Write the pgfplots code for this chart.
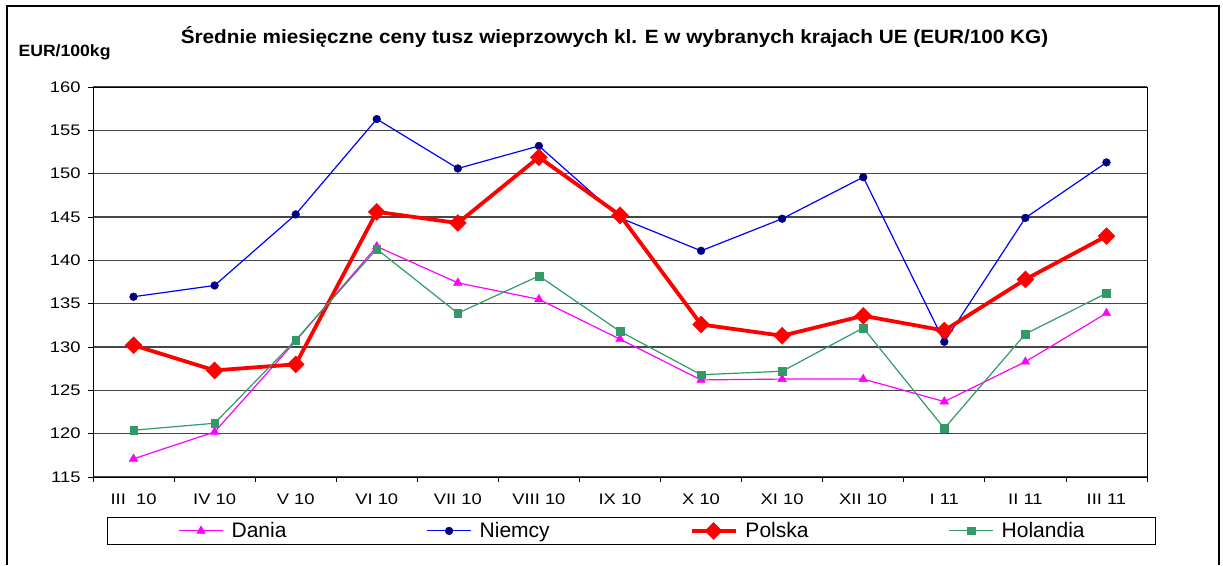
\documentclass[border=0pt]{standalone}
\usepackage{fontspec}
\setmainfont{Liberation Sans}[FakeStretch=1.08]
\newfontfamily\tickfont{Liberation Sans}[FakeStretch=1.2]
\newfontfamily\legfont{Liberation Sans}[FakeStretch=1.0]
\usepackage{pgfplots}
\usepackage{pgfplotstable}
\pgfplotsset{compat=1.18}
\definecolor{dania}{HTML}{FF00FF}
\definecolor{niemcyL}{HTML}{0000FF}
\definecolor{niemcyM}{HTML}{000080}
\definecolor{polska}{HTML}{FF0000}
\definecolor{holandia}{HTML}{339966}
\pgfplotstableread{
x dania niemcy polska holandia
0 117.1 135.8 130.2 120.4
1 120.2 137.1 127.3 121.2
2 130.7 145.3 128.0 130.8
3 141.6 156.3 145.6 141.3
4 137.4 150.6 144.3 133.9
5 135.5 153.2 151.9 138.2
6 130.9 144.9 145.2 131.8
7 126.2 141.1 132.6 126.8
8 126.3 144.8 131.3 127.2
9 126.3 149.6 133.6 132.2
10 123.7 130.6 131.9 120.6
11 128.3 144.9 137.8 131.5
12 133.9 151.3 142.8 136.2
}\data
\begin{document}
\begin{tikzpicture}[x=1pt,y=1pt]
\path[use as bounding box] (0,0) rectangle (1223,565);
\draw[line width=2pt] (7,0) -- (7,559) -- (1219,559) -- (1219,0);
\coordinate (A) at (93,88);
\begin{axis}[
  at={(A)}, anchor=south west,
  scale only axis, width=1054pt, height=390pt,
  xmin=-0.5, xmax=12.5, ymin=115, ymax=160,
  ytick={115,120,...,160},
  xtick={0,...,12},
  xticklabels={III\ \ 10,IV 10,V 10,VI 10,VII 10,VIII 10,IX 10,X 10,XI 10,XII 10,I 11,II 11,III 11},
  minor xtick={-0.5,0.5,...,12.5},
  major x tick style={draw=none},
  tick align=outside, tick pos=left,
  major tick length=5pt, minor tick length=5pt,
  tick style={black, line width=0.8pt},
  ymajorgrids, major grid style={gray!55!black, line width=1.1pt},
  axis line style={black, line width=1pt},
  /pgf/number format/assume math mode=true,
  ticklabel style={font=\tickfont\fontsize{15.3}{18}\selectfont},
  xticklabel style={yshift=-8pt},
  yticklabel style={xshift=-4pt},
  title={\bfseries Średnie miesięczne ceny tusz wieprzowych kl. E w wybranych krajach UE (EUR/100 KG)},
  title style={font=\fontsize{19.2}{22}\selectfont, at={(0.4948,1.0974)}, anchor=base},
  ylabel={\bfseries EUR/100kg},
  ylabel style={font=\fontsize{16.3}{18}\selectfont, rotate=-90, at={(-0.027,1.078)}, anchor=base},
  legend columns=4,
  legend image code/.code={\draw[mark repeat=2,mark phase=2] plot coordinates {(0pt,0pt) (22pt,0pt) (44pt,0pt)};},
  legend style={at={(0.0133,-0.1026)}, anchor=north west, draw=black, line width=0.8pt,
    inner xsep=71pt, inner ysep=5pt,
    nodes={inner sep=0pt},
    font=\legfont\fontsize{21}{23}\selectfont,
    /tikz/every odd column/.append style={column sep=8pt},
    /tikz/every even column/.append style={column sep=140pt}},
]
\addplot[dania, line width=1.2pt, mark=triangle*, mark size=5pt, mark options={fill=dania, draw=dania, line width=0.4pt}] table[x=x,y=dania] {\data};
\addlegendentry{Dania}
\addplot[niemcyL, line width=1.2pt, mark=*, mark size=3.9pt, mark options={fill=niemcyM, draw=niemcyM, line width=0.4pt}] table[x=x,y=niemcy] {\data};
\addlegendentry{Niemcy}
\addplot[polska, line width=3.8pt, mark=square*, mark size=6pt, mark options={fill=polska, draw=polska, rotate=45, line width=0.4pt}] table[x=x,y=polska] {\data};
\addlegendentry{Polska}
\addplot[holandia, line width=1.2pt, mark=square*, mark size=3.8pt, mark options={fill=holandia, draw=holandia, line width=0.4pt}] table[x=x,y=holandia] {\data};
\addlegendentry{Holandia}
\end{axis}
\end{tikzpicture}
\end{document}
